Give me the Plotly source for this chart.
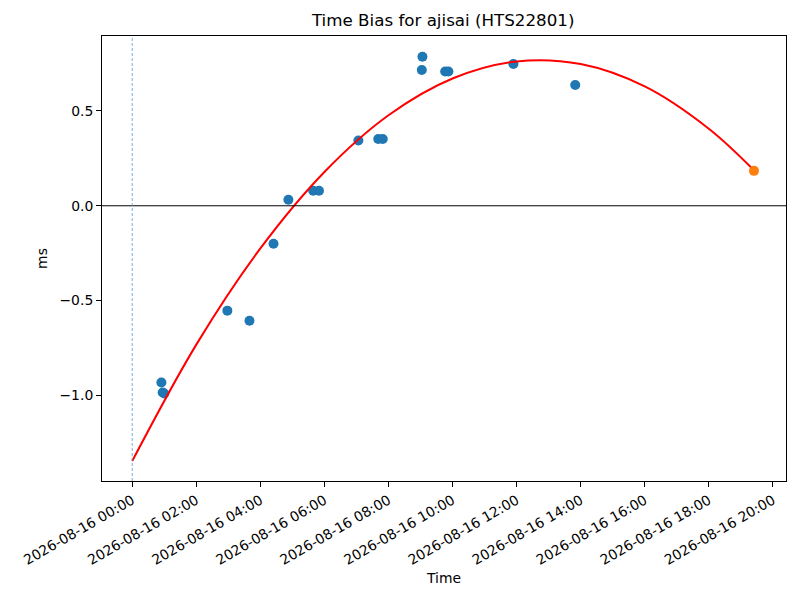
import plotly.graph_objects as go

# observed time bias samples (ms)
obs_times = [
    "2026-08-16 00:54:36", "2026-08-16 00:57:00", "2026-08-16 01:00:00",
    "2026-08-16 02:58:12", "2026-08-16 03:39:36", "2026-08-16 04:24:36",
    "2026-08-16 04:52:30", "2026-08-16 05:39:00", "2026-08-16 05:49:48",
    "2026-08-16 07:03:36", "2026-08-16 07:40:48", "2026-08-16 07:49:12",
    "2026-08-16 09:02:24", "2026-08-16 09:03:36", "2026-08-16 09:46:12",
    "2026-08-16 09:52:12", "2026-08-16 11:54:00", "2026-08-16 13:49:48",
]
obs_bias = [
    -0.932, -0.984, -0.990,
    -0.553, -0.606, -0.200,
    0.032, 0.079, 0.079,
    0.344, 0.352, 0.352,
    0.716, 0.786, 0.708,
    0.708, 0.747, 0.637,
]

# predicted point
pred_time = ["2026-08-16 19:24:36"]
pred_bias = [0.184]

# fitted curve
fit_times = [
    "2026-08-16 00:00:00", "2026-08-16 02:00:00", "2026-08-16 04:00:00",
    "2026-08-16 06:00:00", "2026-08-16 08:00:00", "2026-08-16 10:00:00",
    "2026-08-16 12:00:00", "2026-08-16 14:00:00", "2026-08-16 16:00:00",
    "2026-08-16 18:00:00", "2026-08-16 19:24:36",
]
fit_bias = [-1.346, -0.732, -0.225, 0.178, 0.477, 0.671, 0.761, 0.747, 0.629, 0.406, 0.187]

epoch_time = "2026-08-16 00:00:00"

fig = go.Figure()

fig.add_trace(go.Scatter(
    x=obs_times, y=obs_bias, mode="markers",
    marker=dict(color="#1f77b4", size=10), showlegend=False
))
fig.add_trace(go.Scatter(
    x=fit_times, y=fit_bias, mode="lines",
    line=dict(color="red", width=2, shape="spline"), showlegend=False
))
fig.add_trace(go.Scatter(
    x=pred_time, y=pred_bias, mode="markers",
    marker=dict(color="#ff7f0e", size=10), showlegend=False
))

# zero line and epoch marker
fig.add_hline(y=0, line=dict(color="black", width=1))
fig.add_vline(x=epoch_time, line=dict(color="#5b9bd0", width=0.8, dash="3px,2px"))

# page body adds an 8px offset, so margins are shifted to compensate
fig.update_layout(
    width=800, height=600,
    margin=dict(l=94, r=22, t=28, b=127),
    plot_bgcolor="white", paper_bgcolor="white",
    font=dict(family="DejaVu Sans", size=14, color="black"),
    title=dict(text="Time Bias for ajisai (HTS22801)", x=0.544, xanchor="center",
               y=0.98, yanchor="middle", font=dict(size=16.7)),
)

fig.update_xaxes(
    type="date",
    range=["2026-08-15 23:03:22", "2026-08-16 20:24:36"],
    tick0="2026-08-16 00:00", dtick=7200000,
    tickformat="%Y-%m-%d %H:%M", tickangle=-30,
    tickfont=dict(size=13.9),
    ticks="outside", ticklen=5, tickcolor="black",
    showline=True, mirror=True, linecolor="black", linewidth=1,
    showgrid=False, zeroline=False, automargin=False,
    title=dict(text="Time", standoff=6, font=dict(size=13.9)),
)
fig.update_yaxes(
    range=[-1.451, 0.895],
    tickvals=[-1.0, -0.5, 0.0, 0.5],
    ticktext=["\u22121.0", "\u22120.5", "0.0", "0.5"],
    tickfont=dict(size=13.9),
    ticks="outside", ticklen=5, tickcolor="black",
    showline=True, mirror=True, linecolor="black", linewidth=1,
    showgrid=False, zeroline=False, automargin=False,
    title=dict(text="ms", standoff=8, font=dict(size=13.9)),
)

fig.write_html("out.html")
